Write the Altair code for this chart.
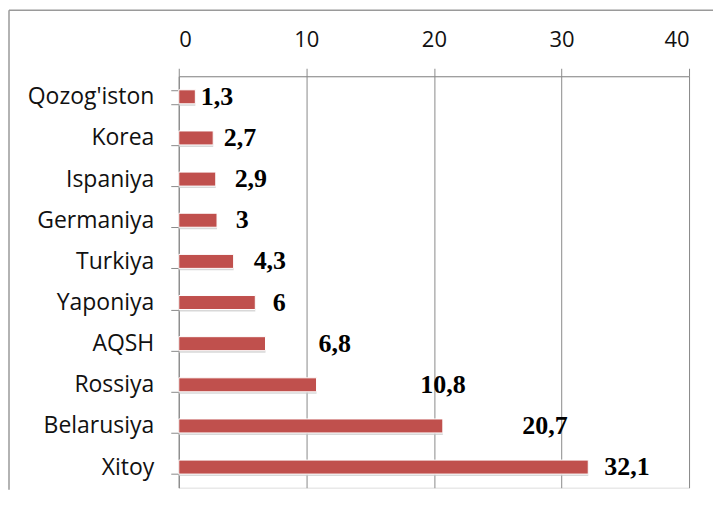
import altair as alt
import pandas as pd

categories = ["Qozog'iston", "Korea", "Ispaniya", "Germaniya", "Turkiya\u00a0",
              "Yaponiya", "AQSH", "Rossiya\u00a0", "Belarusiya", "Xitoy"]
values = [1.3, 2.7, 2.9, 3, 4.3, 6, 6.8, 10.8, 20.7, 32.1]
labels = ["1,3", "2,7", "2,9", "3", "4,3", "6", "6,8", "10,8", "20,7", "32,1"]
# where each data label sits (in axis units), as placed in the original
label_at = [1.72, 3.52, 4.38, 4.46, 5.87, 7.36, 10.96, 18.94, 26.93, 33.35]
ticks = [0, 10, 20, 30, 40]

df = pd.DataFrame({"cat": categories, "val": values, "lab": labels, "pos": label_at})

GRAY = "#8a8a8a"

y_enc = alt.Y("cat:N", sort=categories,
              scale=alt.Scale(paddingInner=0.66, paddingOuter=0.33),
              axis=alt.Axis(title=None, tickBand="extent", domainColor=GRAY,
                            tickColor=GRAY, tickSize=8, labelFont="Open Sans",
                            labelFontSize=23, labelColor="#111111",
                            labelPadding=17, grid=False))
x_scale = alt.Scale(domain=[0, 40], nice=False)

base = alt.Chart(df)

shadow = base.mark_bar(color="#c8c8c8", opacity=0.7).encode(
    x=alt.X("val:Q", scale=x_scale),
    y=y_enc,
    yOffset=alt.value(2),
)

bars = base.mark_bar(color="#C0504D", stroke="white", strokeWidth=1).encode(
    x=alt.X("val:Q", scale=x_scale,
            axis=alt.Axis(orient="top", title=None, values=ticks, grid=True,
                          gridColor=GRAY, gridWidth=1, domainColor=GRAY,
                          tickColor=GRAY, tickSize=8, labelFont="Open Sans",
                          labelFontSize=22, labelColor="#111111",
                          labelPadding=17, format="d")),
    y=y_enc,
)

text = base.mark_text(align="left", baseline="middle", font="Liberation Serif",
                      fontWeight="bold", fontSize=26, color="#000000").encode(
    x=alt.X("pos:Q", scale=x_scale),
    y=alt.Y("cat:N", sort=categories),
    text="lab:N",
)

frame_df = pd.DataFrame({"a": [0]})
top_line = alt.Chart(frame_df).mark_rule(color="#9a9a9a", strokeWidth=1.5).encode(
    x=alt.value(-170), x2=alt.value(535), y=alt.value(-66))
left_line = alt.Chart(frame_df).mark_rule(color="#9a9a9a", strokeWidth=1.5).encode(
    x=alt.value(-170), y=alt.value(-66), y2=alt.value(414))

chart = alt.layer(top_line, left_line, shadow, bars, text).properties(
    width=511, height=412,
    padding={"left": 0, "top": 1, "right": 0, "bottom": 0},
).configure_view(stroke=None).configure(background="white")

chart.save("out.html", embed_options={"renderer": "svg", "actions": False})
